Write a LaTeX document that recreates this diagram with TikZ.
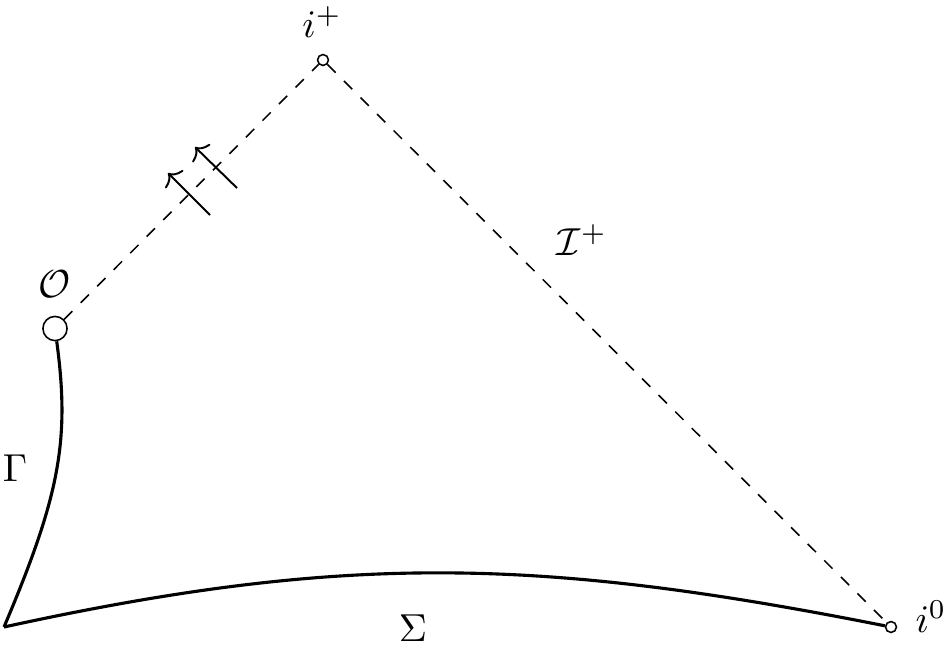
\documentclass[tikz,border=0pt]{standalone}
\usetikzlibrary{arrows.meta}
\begin{document}
\begin{tikzpicture}[x=0.2564pt,y=-0.2564pt,
  pt/.style={circle,draw,line width=0.4pt,inner sep=0pt,minimum size=2.8pt,fill=white},
  bigpt/.style={circle,draw,line width=0.4pt,inner sep=0pt,minimum size=6.2pt,fill=white},
  nullline/.style={dashed,line width=0.4pt},
  curveline/.style={line width=0.8pt},
  flux/.style={line width=0.5pt,-{To[length=2.5pt,width=6.5pt]}},
  lbl/.style={inner sep=0pt}]
\useasboundingbox (0,0) rectangle (947,647);
% points
\node[pt] (ip) at (323,60) {};
\node[bigpt] (O) at (55,328.5) {};
\node[pt] (i0) at (891,627) {};
\coordinate (c) at (4,627);
% labels
\node[lbl] (lip) at (322,22) {$i^+$};
\node[lbl] (lO) at (55,284) {$\mathcal{O}$};
\node[lbl] (lI) at (582,240) {$\mathcal{I}^+$};
\node[lbl] (lG) at (15,468) {$\Gamma$};
\node[lbl] (lS) at (413,628) {$\Sigma$};
\node[lbl] (li0) at (931,617) {$i^0$};
% null lines
\draw[nullline] (O) -- (ip);
\draw[nullline] (ip) -- (i0);
% curves
\draw[curveline] (O) .. controls (70,440) and (60,495) .. (c);
\draw[curveline] (c) .. controls (347,552) and (543,558) .. (i0);
% arrows
\coordinate (a1s) at (210,215);
\coordinate (a1e) at (168,173);
\coordinate (a2s) at (237,188);
\coordinate (a2e) at (195,147);
\draw[flux] (a1s) -- (a1e);
\draw[flux] (a2s) -- (a2e);
\end{tikzpicture}
\end{document}
